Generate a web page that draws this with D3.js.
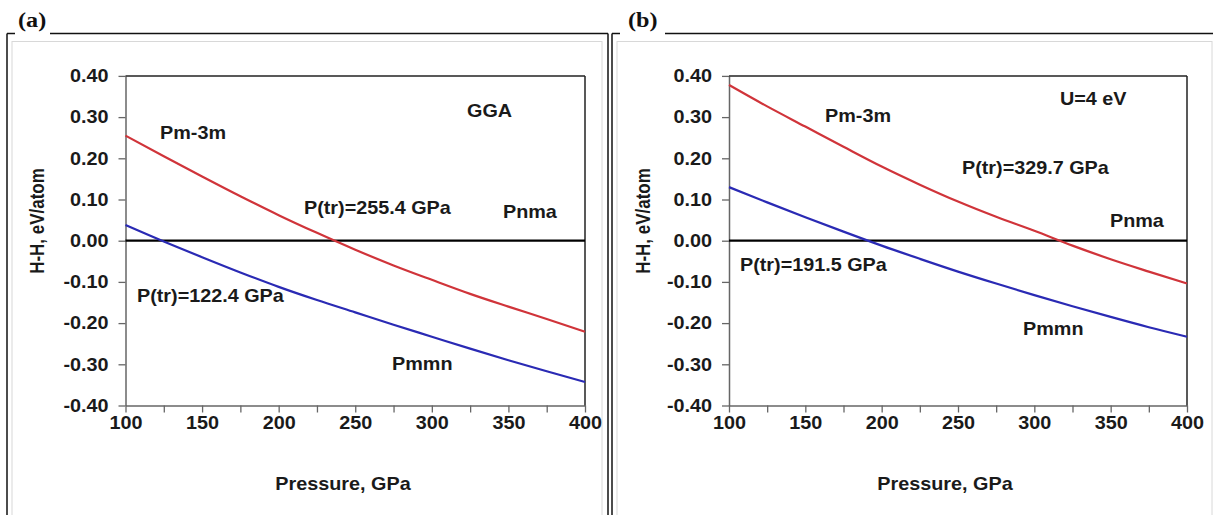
<!DOCTYPE html>
<html>
<head>
<meta charset="utf-8">
<script src="https://cdn.jsdelivr.net/npm/d3@7"></script>
<style>
  body { margin: 0; background: #fff; }
  svg { display: block; }
</style>
</head>
<body>
<div id="chart"></div>
<script>
const svgWidth = 1213;
const svgHeight = 515;
const stretch = 1.1;            // the source picture is a little wider than tall
const sansFont = "'Liberation Sans', Arial, sans-serif";
const serifFont = "'Liberation Serif', 'Times New Roman', serif";

// Data (enthalpy difference vs Pnma, eV/atom)
const pressure = [100, 125, 150, 175, 200, 225, 250, 275, 300, 325, 350, 375, 400];
const pm3mGGA = [0.255, 0.205, 0.156, 0.108, 0.062, 0.019, -0.022, -0.060, -0.095, -0.129, -0.160, -0.190, -0.221];
const pmmnGGA = [0.038, -0.002, -0.040, -0.077, -0.112, -0.144, -0.174, -0.204, -0.233, -0.262, -0.290, -0.317, -0.343];
const pm3mU4 = [0.378, 0.326, 0.277, 0.228, 0.180, 0.136, 0.095, 0.058, 0.024, -0.012, -0.045, -0.075, -0.104];
const pmmnU4 = [0.130, 0.093, 0.057, 0.022, -0.012, -0.044, -0.075, -0.104, -0.132, -0.159, -0.185, -0.210, -0.233];

const xTicks = [100, 125, 150, 175, 200, 225, 250, 275, 300, 325, 350, 375, 400];
const yTicks = [-0.4, -0.3, -0.2, -0.1, 0, 0.1, 0.2, 0.3, 0.4];
const panelTags = ["(a)", "(b)"];
const xTitle = "Pressure, GPa";
const yTitle = "H-H, eV/atom";

const redColor = "#d0343a";
const blueColor = "#2a2ab4";

const panels = [
  {
    tag: panelTags[0], frameLeft: 7, frameRight: 608, tagX: 18, lineStart: 50,
    left: 125.5, right: 585, yTitleX: 44, xTitleX: 343,
    red: pm3mGGA, blue: pmmnGGA,
    notes: [
      { text: "Pm-3m", x: 160, y: 138.5 },
      { text: "P(tr)=122.4 GPa", x: 137, y: 302 },
      { text: "P(tr)=255.4 GPa", x: 304, y: 214 },
      { text: "GGA", x: 467, y: 117 },
      { text: "Pnma", x: 503, y: 218 },
      { text: "Pmmn", x: 392, y: 370 }
    ]
  },
  {
    tag: panelTags[1], frameLeft: 612, frameRight: null, tagX: 628, lineStart: 665,
    left: 729, right: 1187, yTitleX: 650, xTitleX: 945,
    red: pm3mU4, blue: pmmnU4,
    notes: [
      { text: "Pm-3m", x: 825, y: 121.5 },
      { text: "P(tr)=191.5 GPa", x: 740, y: 271 },
      { text: "U=4 eV", x: 1060, y: 105 },
      { text: "P(tr)=329.7 GPa", x: 962, y: 174 },
      { text: "Pnma", x: 1110, y: 226.5 },
      { text: "Pmmn", x: 1023, y: 335 }
    ]
  }
];

const plotTop = 75.9;
const plotBottom = 405.5;
const frameTop = 33.5;

let svg = d3.select("#chart").append("svg")
  .attr("width", svgWidth)
  .attr("height", svgHeight);

function addText(parent, x, y, txt, size, anchor = "start") {
  return parent.append("text")
    .attr("transform", `translate(${x},${y}) scale(${stretch},1)`)
    .attr("text-anchor", anchor)
    .style("font-family", sansFont)
    .style("font-weight", "bold")
    .style("font-size", `${size}px`)
    .attr("fill", "#1a1a1a")
    .text(txt);
}

function drawFrame(p) {
  let g = svg.append("g");
  let right = p.frameRight === null ? svgWidth + 5 : p.frameRight;
  // light inner chart-area border
  g.append("rect")
    .attr("x", p.frameLeft + 5).attr("y", 41.5)
    .attr("width", right - p.frameLeft - 11).attr("height", 500)
    .attr("fill", "none").attr("stroke", "#d8d8d8").attr("stroke-width", 1);
  // outer black frame, broken by the panel tag
  g.append("line")
    .attr("x1", p.frameLeft).attr("x2", p.frameLeft + 8)
    .attr("y1", frameTop).attr("y2", frameTop)
    .attr("stroke", "#111").attr("stroke-width", 1.5);
  g.append("line")
    .attr("x1", p.lineStart).attr("x2", right)
    .attr("y1", frameTop).attr("y2", frameTop)
    .attr("stroke", "#111").attr("stroke-width", 1.5);
  g.append("line")
    .attr("x1", p.frameLeft).attr("x2", p.frameLeft)
    .attr("y1", frameTop).attr("y2", svgHeight)
    .attr("stroke", "#111").attr("stroke-width", 1.5);
  if (p.frameRight !== null) {
    g.append("line")
      .attr("x1", right).attr("x2", right)
      .attr("y1", frameTop).attr("y2", svgHeight)
      .attr("stroke", "#111").attr("stroke-width", 1.5);
  }
  g.append("text")
    .attr("transform", `translate(${p.tagX},27) scale(1.1,1)`)
    .style("font-family", serifFont)
    .style("font-weight", "bold")
    .style("font-size", "22px")
    .attr("fill", "#111")
    .text(p.tag);
}

function drawPanel(p) {
  let g = svg.append("g");
  let x = d3.scaleLinear().domain([100, 400]).range([p.left, p.right]);
  let y = d3.scaleLinear().domain([-0.4, 0.4]).range([plotBottom, plotTop]);

  // Y axis
  let yAxis = g.append("g")
    .attr("transform", `translate(${p.left},0)`)
    .call(d3.axisLeft(y).tickValues(yTicks).tickSize(7).tickSizeOuter(0)
      .tickPadding(10).tickFormat(d => d.toFixed(2)));
  yAxis.select(".domain").attr("stroke", "#666").attr("stroke-width", 1.5);
  yAxis.selectAll(".tick line").attr("stroke", "#666").attr("stroke-width", 1.3);
  yAxis.selectAll(".tick text")
    .attr("x", 0)
    .attr("transform", `translate(-17,0) scale(${stretch},1)`)
    .style("font-family", sansFont)
    .style("font-weight", "bold")
    .style("font-size", "18px")
    .attr("fill", "#1a1a1a");

  // X axis
  let xAxis = g.append("g")
    .attr("transform", `translate(0,${plotBottom})`)
    .call(d3.axisBottom(x).tickValues(xTicks).tickSize(7).tickSizeOuter(0)
      .tickPadding(4).tickFormat(d => d % 50 === 0 ? d : ""));
  xAxis.select(".domain").attr("stroke", "#666").attr("stroke-width", 1.5);
  xAxis.selectAll(".tick line").attr("stroke", "#666").attr("stroke-width", 1.3);
  xAxis.selectAll(".tick text")
    .attr("transform", `scale(${stretch},1)`)
    .style("font-family", sansFont)
    .style("font-weight", "bold")
    .style("font-size", "18px")
    .attr("fill", "#1a1a1a");

  // top and right borders of the plot
  g.append("line")
    .attr("x1", x(100)).attr("x2", x(400))
    .attr("y1", y(0.4)).attr("y2", y(0.4))
    .attr("stroke", "#222").attr("stroke-width", 1.5);
  g.append("line")
    .attr("x1", x(400)).attr("x2", x(400))
    .attr("y1", y(0.4)).attr("y2", y(-0.4))
    .attr("stroke", "#222").attr("stroke-width", 1.5);

  // Pnma reference line
  g.append("line")
    .attr("x1", x(100)).attr("x2", x(400))
    .attr("y1", y(0)).attr("y2", y(0))
    .attr("stroke", "#000").attr("stroke-width", 2.2);

  let line = d3.line()
    .x((d, i) => x(pressure[i]))
    .y(d => y(d))
    .curve(d3.curveMonotoneX);

  g.append("path")
    .attr("d", line(p.red))
    .attr("fill", "none")
    .attr("stroke", redColor)
    .attr("stroke-width", 2.2);
  g.append("path")
    .attr("d", line(p.blue))
    .attr("fill", "none")
    .attr("stroke", blueColor)
    .attr("stroke-width", 2.2);

  // annotations
  p.notes.forEach(n => addText(g, n.x, n.y, n.text, 18));

  // axis titles
  addText(g, p.xTitleX, 490, xTitle, 18, "middle");
  g.append("text")
    .attr("transform", `translate(${p.yTitleX},221) rotate(-90) scale(1,1.15)`)
    .attr("text-anchor", "middle")
    .style("font-family", sansFont)
    .style("font-weight", "bold")
    .style("font-size", "17px")
    .attr("fill", "#1a1a1a")
    .text(yTitle);
}

panels.forEach(p => {
  drawFrame(p);
  drawPanel(p);
});
</script>
</body>
</html>
